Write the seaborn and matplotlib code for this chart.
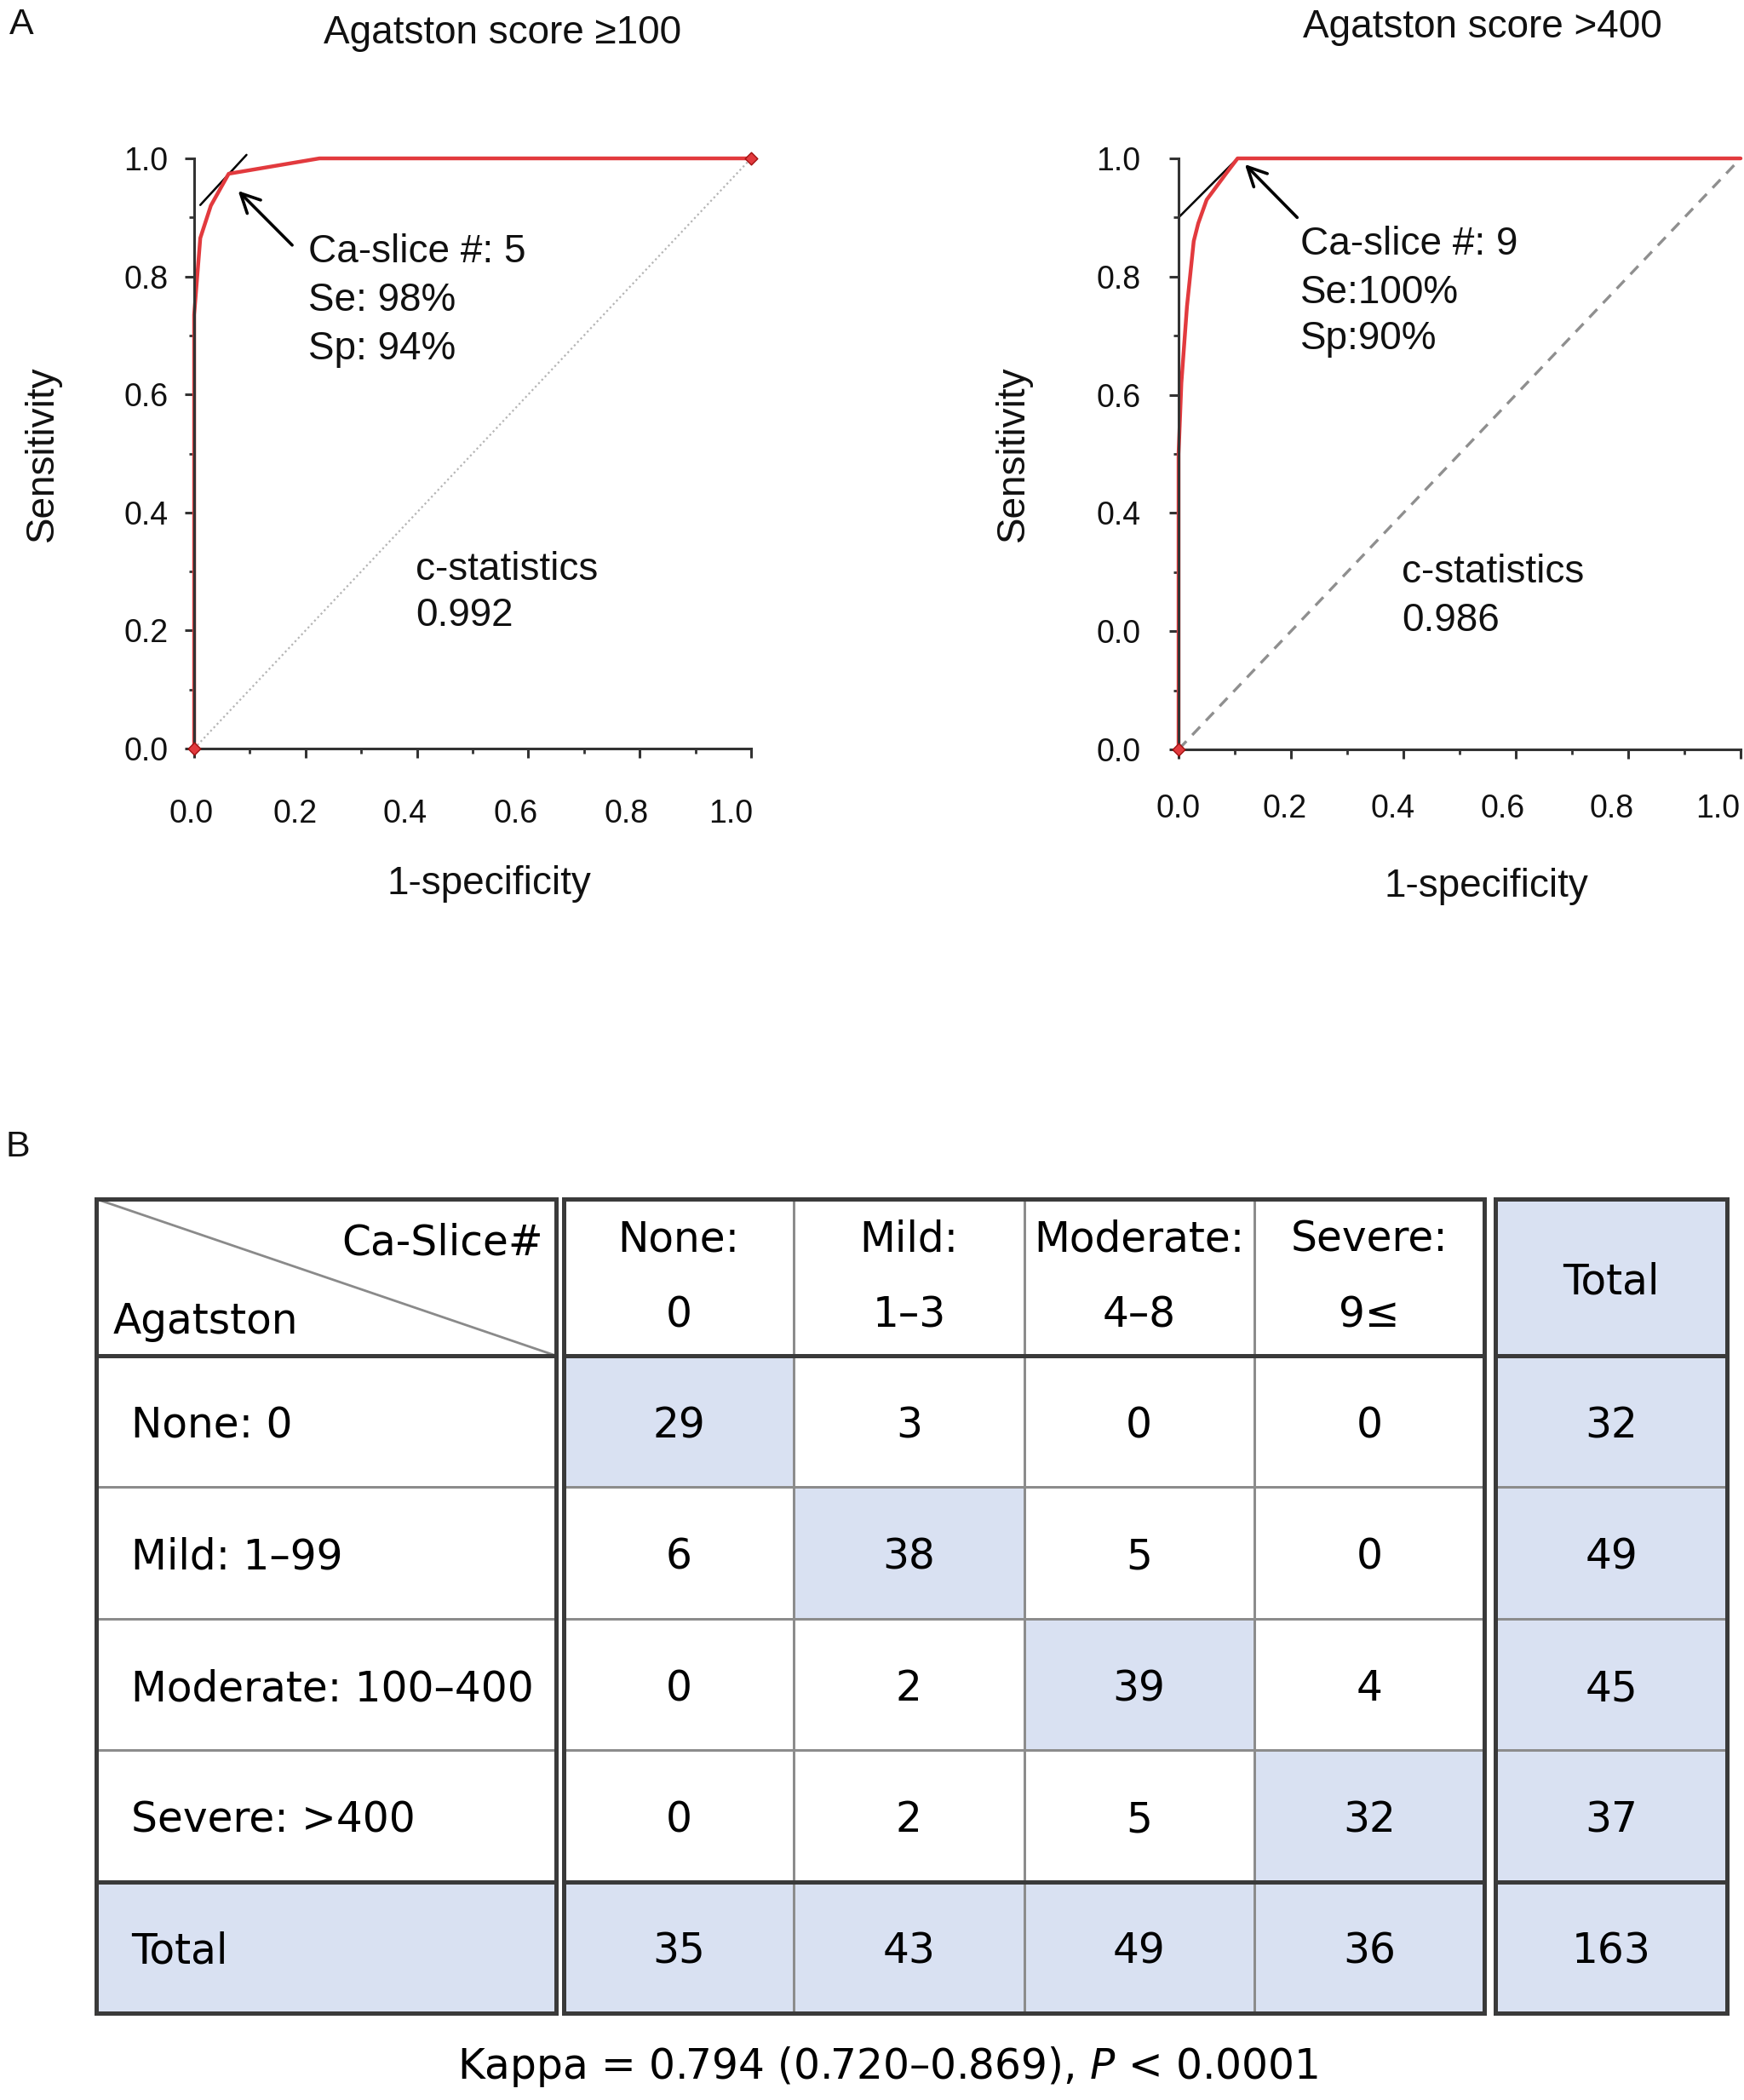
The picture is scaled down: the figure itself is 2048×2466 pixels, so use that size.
import numpy as np
import matplotlib
matplotlib.use("Agg")
import matplotlib.pyplot as plt
from matplotlib.colors import ListedColormap
from matplotlib.ticker import MultipleLocator, FixedLocator, FixedFormatter
import seaborn as sns

# ---------------- data ----------------
# Panel A, left ROC (Agatston score >=100)
roc1_fpr = [0.0, 0.0, 0.011, 0.03, 0.062, 0.225, 1.0]
roc1_tpr = [0.0, 0.735, 0.865, 0.92, 0.974, 1.0, 1.0]
tan1_x = [0.011, 0.094]
tan1_y = [0.921, 1.006]
cut1_note = ["Ca-slice #: 5", "Se: 98%", "Sp: 94%"]
cstat1 = ["c-statistics", "0.992"]
title1 = "Agatston score \u2265100"

# Panel A, right ROC (Agatston score >400)
roc2_fpr = [0.0, 0.0, 0.005, 0.015, 0.027, 0.035, 0.05, 0.085, 0.105, 1.0]
roc2_tpr = [0.0, 0.5, 0.62, 0.75, 0.86, 0.89, 0.93, 0.975, 1.0, 1.0]
tan2_x = [0.0, 0.105]
tan2_y = [0.90, 1.0]
cut2_note = ["Ca-slice #: 9", "Se:100%", "Sp:90%"]
cstat2 = ["c-statistics", "0.986"]
title2 = "Agatston score >400"

diag = [0.0, 1.0]
x_ticks = [0.0, 0.2, 0.4, 0.6, 0.8, 1.0]
x_ticklabels = ["0.0", "0.2", "0.4", "0.6", "0.8", "1.0"]
y1_ticklabels = ["0.0", "0.2", "0.4", "0.6", "0.8", "1.0"]
y2_ticklabels = ["0.0", "0.0", "0.4", "0.6", "0.8", "1.0"]   # as printed in the source

# Panel B, cross table
corner_col = "Ca-Slice#"
corner_row = "Agatston"
row_labels = ["None: 0", "Mild: 1\u201399", "Moderate: 100\u2013400", "Severe: >400", "Total"]
col_labels = ["None:\n0", "Mild:\n1\u20133", "Moderate:\n4\u20138", "Severe:\n9\u2264"]
counts = [[29, 3, 0, 0],
          [6, 38, 5, 0],
          [0, 2, 39, 4],
          [0, 2, 5, 32]]
col_totals = [35, 43, 49, 36]
row_totals = [32, 49, 45, 37]
grand_total = 163
kappa_text = "Kappa = 0.794 (0.720\u20130.869), $\\mathit{P}$ < 0.0001"

# ---------------- style ----------------
sns.set_theme(style="white")
plt.rcParams["font.family"] = ["Liberation Sans", "DejaVu Sans"]
plt.rcParams["mathtext.fontset"] = "dejavusans"

RED = "#e23a3e"
FILL = "#d9e1f2"
LINE_DARK = "#3a3a3a"
LINE_GRAY = "#8c8c8c"
FS = 16.5
TICK_FS = 13.5
TFS = 17.5

W, H = 2048, 2466
fig = plt.figure(figsize=(W / 200, H / 200), dpi=200)
fig.patch.set_facecolor("white")


def px_axes(x0, y0, x1, y1):
    return fig.add_axes([x0 / W, 1 - y1 / H, (x1 - x0) / W, (y1 - y0) / H])


def line(ax, x, y, **kw):
    sns.lineplot(x=x, y=y, ax=ax, sort=False, estimator=None, clip_on=False, **kw)


def roc_panel(ax, fpr, tpr, tan_x, tan_y, diag_kw, tail, head, note, note_x, note_y,
              cstat, cstat_x, cstat_y, yticklabels, ypad, xlab_offsets, xlab_y,
              ylab_x, xlab_xy, marker_pts):
    line(ax, diag, diag, **diag_kw)
    line(ax, tan_x, tan_y, color="black", lw=0.9)
    line(ax, fpr, tpr, color=RED, lw=1.6)
    mx = [fpr[i] for i in marker_pts]
    my = [tpr[i] for i in marker_pts]
    sns.scatterplot(x=mx, y=my, ax=ax, color=RED, marker="D", s=14, edgecolor="#a01010",
                    linewidth=0.5, clip_on=False, zorder=5)
    ax.annotate("", xy=head, xytext=tail,
                arrowprops=dict(arrowstyle="->", lw=1.3, color="black", mutation_scale=20,
                                shrinkA=0, shrinkB=0))
    for i, t in enumerate(note):
        ax.text(note_x, note_y[i], t, fontsize=FS, ha="left", va="center", color="#111111")
    for i, t in enumerate(cstat):
        ax.text(cstat_x, cstat_y[i], t, fontsize=FS, ha="left", va="center", color="#111111")
    ax.set_xlim(0, 1)
    ax.set_ylim(0, 1)
    ax.xaxis.set_major_locator(FixedLocator(x_ticks))
    ax.yaxis.set_major_locator(FixedLocator(x_ticks))
    ax.yaxis.set_major_formatter(FixedFormatter(yticklabels))
    ax.xaxis.set_minor_locator(MultipleLocator(0.1))
    ax.yaxis.set_minor_locator(MultipleLocator(0.1))
    for s in ["top", "right"]:
        ax.spines[s].set_visible(False)
    for s in ["left", "bottom"]:
        ax.spines[s].set_color("#333333")
        ax.spines[s].set_linewidth(1.1)
    ax.tick_params(axis="both", which="major", direction="out", length=4, width=1.1,
                   color="#333333", labelsize=TICK_FS, labelcolor="#111111",
                   bottom=True, left=True)
    ax.tick_params(axis="both", which="minor", direction="out", length=2, width=1.0,
                   color="#333333", bottom=True, left=True)
    ax.tick_params(axis="y", which="major", pad=ypad)
    ax.tick_params(axis="x", which="major", labelbottom=False)
    # x tick labels sit slightly left of their ticks in the source figure
    for xv, lab, off in zip(x_ticks, x_ticklabels, xlab_offsets):
        ax.text(xv + off, xlab_y, lab, transform=ax.get_xaxis_transform(),
                ha="center", va="center", fontsize=TICK_FS, color="#111111", clip_on=False)
    ax.set_xlabel("1-specificity", fontsize=FS, color="#111111")
    ax.set_ylabel("Sensitivity", fontsize=FS, color="#111111")
    ax.xaxis.set_label_coords(xlab_xy[0], xlab_xy[1])
    ax.yaxis.set_label_coords(ylab_x, 0.5)
    ax.set_facecolor("none")


# left ROC
ax1 = px_axes(228, 186, 882, 879)
roc_panel(ax1, roc1_fpr, roc1_tpr, tan1_x, tan1_y,
          dict(color="#b5b5b5", lw=0.8, linestyle=(0, (1, 1.5))),
          tail=(0.176, 0.853), head=(0.079, 0.945),
          note=cut1_note, note_x=0.205, note_y=[0.841, 0.759, 0.677],
          cstat=cstat1, cstat_x=0.398, cstat_y=[0.303, 0.225],
          yticklabels=y1_ticklabels, ypad=7,
          xlab_offsets=[-0.005, -0.019, -0.022, -0.022, -0.024, -0.036], xlab_y=-0.111,
          ylab_x=-0.239, xlab_xy=(0.53, -0.198), marker_pts=[0, len(roc1_fpr) - 1])

# right ROC
ax2 = px_axes(1384, 186, 2044, 880)
roc_panel(ax2, roc2_fpr, roc2_tpr, tan2_x, tan2_y,
          dict(color="#8f8f8f", lw=1.2, linestyle=(0, (4, 3))),
          tail=(0.211, 0.90), head=(0.118, 0.99),
          note=cut2_note, note_x=0.216, note_y=[0.855, 0.773, 0.694],
          cstat=cstat2, cstat_x=0.397, cstat_y=[0.299, 0.218],
          yticklabels=y2_ticklabels, ypad=12,
          xlab_offsets=[0.0, -0.012, -0.019, -0.024, -0.029, -0.041], xlab_y=-0.101,
          ylab_x=-0.261, xlab_xy=(0.547, -0.2), marker_pts=[0])

fig.text(590 / W, 1 - 39 / H, title1, fontsize=16.5, ha="center", va="center", color="#111111")
fig.text(1741 / W, 1 - 32 / H, title2, fontsize=16.5, ha="center", va="center", color="#111111")
fig.text(25 / W, 1 - 29 / H, "A", fontsize=15.5, ha="center", va="center", color="#111111")
fig.text(21 / W, 1 - 1347 / H, "B", fontsize=15.5, ha="center", va="center", color="#111111")

# ---------------- Panel B table ----------------
cmap2 = ListedColormap(["white", FILL])
tkw = dict(fontsize=TFS, color="black", family="DejaVu Sans")
n_rows = len(counts)
n_cols = len(counts[0])


def frame(ax, lw=1.8):
    for s in ax.spines.values():
        s.set_visible(True)
        s.set_color(LINE_DARK)
        s.set_linewidth(lw)


def hm(ax, hi, annot=None, fmt="d", linespacing=None, va="center_baseline"):
    kw = dict(tkw)
    kw["va"] = va
    if linespacing:
        kw["linespacing"] = linespacing
    sns.heatmap(np.asarray(hi), ax=ax, cmap=cmap2, vmin=0, vmax=1, cbar=False,
                annot=annot if annot is not None else False, fmt=fmt, annot_kws=kw,
                linewidths=1.0, linecolor=LINE_GRAY, xticklabels=False, yticklabels=False)
    frame(ax)


Y_TOP, Y_HEAD, Y_BOT = 1408, 1592, 2364
XL0, XL1 = 113, 653
XM0, XM1 = 662, 1743
XT0, XT1 = 1756, 2028

# corner header cell
ax_c = px_axes(XL0, Y_TOP, XL1, Y_HEAD)
ax_c.set_xlim(0, 1)
ax_c.set_ylim(0, 1)
ax_c.set_xticks([])
ax_c.set_yticks([])
ax_c.plot([0, 1], [1, 0], color="#8a8a8a", lw=1.0)
ax_c.text(0.972, 0.72, corner_col, ha="right", va="center", **tkw)
ax_c.text(0.037, 0.22, corner_row, ha="left", va="center", **tkw)
frame(ax_c)

# row label column
hi_left = [[0] for _ in range(n_rows)] + [[1]]
ax_l = px_axes(XL0, Y_HEAD, XL1, Y_BOT)
hm(ax_l, hi_left)
for i, lab in enumerate(row_labels):
    ax_l.text(0.076, i + 0.5, lab, ha="left", va="center_baseline", **tkw)
ax_l.axhline(n_rows, color=LINE_DARK, lw=1.8)

# column header
ax_h = px_axes(XM0, Y_TOP, XM1, Y_HEAD)
hm(ax_h, [[0] * n_cols], annot=np.array([col_labels]), fmt="", linespacing=2.1, va="center")

# body + total row
body_vals = np.array(counts + [col_totals])
body_hi = [[1 if (i == j or i == n_rows) else 0 for j in range(n_cols)] for i in range(n_rows + 1)]
ax_b = px_axes(XM0, Y_HEAD, XM1, Y_BOT)
hm(ax_b, body_hi, annot=body_vals, fmt="d")
ax_b.axhline(n_rows, color=LINE_DARK, lw=1.8)

# total column header
ax_th = px_axes(XT0, Y_TOP, XT1, Y_HEAD)
hm(ax_th, [[1]], annot=np.array([["Total"]]), fmt="")

# total column body
tot_vals = np.array([[v] for v in row_totals + [grand_total]])
ax_t = px_axes(XT0, Y_HEAD, XT1, Y_BOT)
hm(ax_t, [[1] for _ in range(n_rows + 1)], annot=tot_vals, fmt="d")
ax_t.axhline(n_rows, color=LINE_DARK, lw=1.8)

fig.text(1042 / W, 1 - 2427 / H, kappa_text, fontsize=17.5, ha="center", va="center",
         family="DejaVu Sans", color="black")

fig.savefig("out.png", dpi=200, facecolor="white")
